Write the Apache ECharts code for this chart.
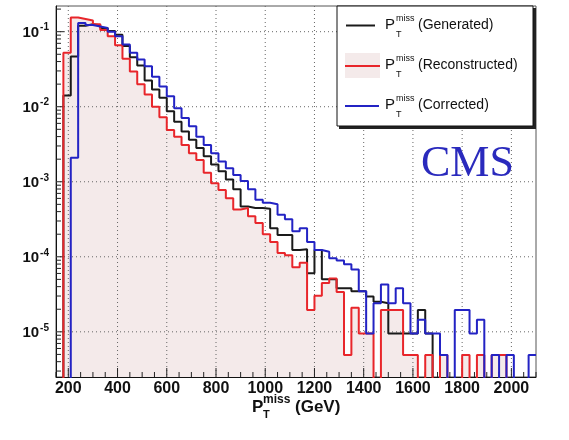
<!DOCTYPE html>
<html><head><meta charset="utf-8">
<script src="https://cdn.jsdelivr.net/npm/echarts@6/dist/echarts.min.js"></script>
<style>html,body{margin:0;padding:0;background:#fff}#c{width:569px;height:440px}</style>
</head><body><div id="c"></div>
<script>
// Bin low edges (GeV), 30 GeV wide bins; last upper edge
const binLowEdges = [150,180,210,240,270,300,330,360,390,420,450,480,510,540,570,600,630,660,690,720,750,780,810,840,870,900,930,960,990,1020,1050,1080,1110,1140,1170,1200,1230,1260,1290,1320,1350,1380,1410,1440,1470,1500,1530,1560,1590,1620,1650,1680,1710,1740,1770,1800,1830,1860,1890,1920,1950,1980,2010,2040,2070];
const binUpEdge = 2100;

// P_T^miss (Generated)
const generated = [0,0.0141,0.0468,0.120,0.126,0.122,0.112,0.102,0.0912,0.0646,0.0457,0.0355,0.0224,0.0170,0.0132,0.00871,0.00631,0.00468,0.00363,0.00282,0.00219,0.00170,0.00138,0.00107,0.000794,0.000468,0.000447,0.000447,0.000437,0.000240,0.000195,0.000195,0.000123,0.000126,6.03e-5,0.000123,5.01e-5,5.01e-5,3.80e-5,3.80e-5,3.47e-5,3.47e-5,2.95e-5,2.51e-5,2.40e-5,9.5e-6,9.5e-6,9.5e-6,9.5e-6,1.95e-5,9.5e-6,0,0,0,0,0,0,0,0,0,0,0,0,0,0];
// P_T^miss (Reconstructed)
const reconstructed = [0,0.0525,0.155,0.148,0.141,0.126,0.105,0.0871,0.0661,0.0437,0.0295,0.0200,0.0145,0.0100,0.00724,0.00490,0.00398,0.00309,0.00240,0.00195,0.00132,0.000955,0.000776,0.000603,0.000427,0.000447,0.000347,0.000282,0.000200,0.000158,0.000112,0.000105,7.24e-5,8.32e-5,1.95e-5,3.02e-5,4.47e-5,5.13e-5,3.39e-5,4.9e-6,2.09e-5,9.5e-6,9.5e-6,0,1.95e-5,1.95e-5,1.95e-5,4.9e-6,4.9e-6,0,4.9e-6,0,4.9e-6,0,0,4.9e-6,0,4.9e-6,0,4.9e-6,4.9e-6,0,0,0,0];
// P_T^miss (Corrected)
const corrected = [0,0,0.00209,0.131,0.123,0.117,0.112,0.100,0.0871,0.0676,0.0525,0.0427,0.0347,0.0251,0.0186,0.0138,0.00955,0.00708,0.00550,0.00398,0.00309,0.00240,0.00186,0.00151,0.00123,0.00102,0.000794,0.000575,0.000525,0.000501,0.000363,0.000316,0.000219,0.000240,0.000158,0.000123,0.000117,9.55e-5,8.91e-5,7.94e-5,6.76e-5,3.47e-5,9.5e-6,2.40e-5,4.27e-5,2.40e-5,3.80e-5,2.40e-5,9.5e-6,1.45e-5,9.5e-6,9.5e-6,4.9e-6,0,1.95e-5,1.95e-5,9.5e-6,1.45e-5,0,4.9e-6,0,4.9e-6,0,0,4.9e-6];

const xTickLabels = [200,400,600,800,1000,1200,1400,1600,1800,2000];
const yDecades = [1e-5,1e-4,1e-3,1e-2,1e-1];

const X_MIN = 150, X_MAX = 2100, Y_MIN = 2.5e-6, Y_MAX = 0.22;
const FLOOR = 1e-9; // empty bins drawn below the frame (log axis)

function stepData(vals) {
  const pts = binLowEdges.map((e, i) => [e, vals[i] > 0 ? vals[i] : FLOOR]);
  const last = vals[vals.length - 1];
  pts.push([binUpEdge, last > 0 ? last : FLOOR]);
  return pts;
}

// tick positions
const xMinorTicks = [];
for (let v = X_MIN; v <= X_MAX; v += 50) xMinorTicks.push(v);
const yMinorTicks = [];
for (let d = -6; d <= -1; d++) for (let m = 1; m <= 9; m++) {
  const v = m * Math.pow(10, d);
  if (v >= Y_MIN && v <= Y_MAX) yMinorTicks.push({ v: v, major: m === 1 });
}

const FONT = '"Liberation Sans", Arial, Helvetica, sans-serif';
const BLACK = '#1a1a1a', RED = '#e8262b', BLUE = '#2323c4', FILL = '#f4eaea';

const chart = echarts.init(document.getElementById('c'), null, { renderer: 'canvas' });

function gridXRender(params, api) {
  const cs = params.coordSys;
  const x = api.coord([api.value(0), 1e-3])[0];
  return { type: 'line', shape: { x1: x, y1: cs.y, x2: x, y2: cs.y + cs.height },
    style: { stroke: '#666', lineWidth: 1, lineDash: [1, 3] } };
}
function gridYRender(params, api) {
  const cs = params.coordSys;
  const y = api.coord([1000, api.value(1)])[1];
  return { type: 'line', shape: { x1: cs.x, y1: y, x2: cs.x + cs.width, y2: y },
    style: { stroke: '#666', lineWidth: 1, lineDash: [1, 3] } };
}
function xTickRender(params, api) {
  const cs = params.coordSys;
  const v = api.value(0);
  const x = api.coord([v, 1e-3])[0];
  const len = (v % 200 === 0) ? 9 : 5;
  const yb = cs.y + cs.height;
  return { type: 'line', shape: { x1: x, y1: yb, x2: x, y2: yb - len },
    style: { stroke: '#222', lineWidth: 1 } };
}
function yTickRender(params, api) {
  const cs = params.coordSys;
  const y = api.coord([1000, api.value(1)])[1];
  const len = api.value(2) ? 8 : 5;
  return { type: 'line', shape: { x1: cs.x, y1: y, x2: cs.x + len, y2: y },
    style: { stroke: '#222', lineWidth: 1 } };
}

const option = {
  animation: false,
  backgroundColor: '#fff',
  grid: { left: 56, right: 33, top: 6, bottom: 63, show: true, borderColor: '#555', borderWidth: 1 },
  xAxis: {
    type: 'value', min: X_MIN, max: X_MAX, interval: 50,
    axisLine: { show: true, onZero: false, lineStyle: { color: '#111', width: 1 } },
    axisTick: { show: false }, splitLine: { show: false },
    axisLabel: {
      margin: 4, fontSize: 16, fontWeight: 'bold', color: '#111', fontFamily: FONT,
      formatter: function (v) { return xTickLabels.indexOf(v) >= 0 ? String(v) : ''; }
    }
  },
  yAxis: {
    type: 'log', logBase: 10, min: Y_MIN, max: Y_MAX,
    axisLine: { show: true, lineStyle: { color: '#111', width: 1 } },
    axisTick: { show: false }, splitLine: { show: false },
    axisLabel: {
      margin: 7, color: '#111', fontFamily: FONT,
      formatter: function (v) {
        const l = Math.log10(v);
        const r = Math.round(l);
        if (Math.abs(l - r) > 1e-6) return '';
        return '{b|10}{s|' + r + '}';
      },
      rich: {
        b: { fontSize: 15, fontWeight: 'bold', fontFamily: FONT, color: '#111', lineHeight: 18, verticalAlign: 'bottom' },
        s: { fontSize: 10, fontWeight: 'bold', fontFamily: FONT, color: '#111', lineHeight: 10, verticalAlign: 'top', padding: [0, 0, 0, 1] }
      }
    }
  },
  series: [
    { name: 'Reconstructed fill', type: 'line', step: 'end', data: stepData(reconstructed),
      showSymbol: false, silent: true, z: 1, clip: true,
      lineStyle: { width: 0, opacity: 0 }, areaStyle: { color: FILL, opacity: 1, origin: 'start' } },
    { name: 'gridX', type: 'custom', z: 2, silent: true, renderItem: gridXRender,
      data: xTickLabels.map(v => [v, 1e-3]), encode: { x: 0, y: 1 } },
    { name: 'gridY', type: 'custom', z: 2, silent: true, renderItem: gridYRender,
      data: yDecades.map(v => [1000, v]), encode: { x: 0, y: 1 } },
    { name: 'xTicks', type: 'custom', z: 2, silent: true, renderItem: xTickRender,
      data: xMinorTicks.map(v => [v, 1e-3]), encode: { x: 0, y: 1 } },
    { name: 'yTicks', type: 'custom', z: 2, silent: true, renderItem: yTickRender,
      data: yMinorTicks.map(t => [1000, t.v, t.major ? 1 : 0]), encode: { x: 0, y: 1 } },
    { name: 'Generated', type: 'line', step: 'end', data: stepData(generated), showSymbol: false,
      z: 3, clip: true, lineStyle: { color: BLACK, width: 2 } },
    { name: 'Reconstructed', type: 'line', step: 'end', data: stepData(reconstructed), showSymbol: false,
      z: 3, clip: true, lineStyle: { color: RED, width: 2 } },
    { name: 'Corrected', type: 'line', step: 'end', data: stepData(corrected), showSymbol: false,
      z: 4, clip: true, lineStyle: { color: BLUE, width: 2 } }
  ],
  graphic: [
    // legend box with shadow
    { type: 'rect', z: 100, shape: { x: 339, y: 8, width: 197, height: 121 }, style: { fill: '#222' } },
    { type: 'rect', z: 101, shape: { x: 337, y: 6, width: 196, height: 120 }, style: { fill: '#fff', stroke: '#111', lineWidth: 1 } },
    // row 1 generated
    { type: 'line', z: 102, shape: { x1: 346, y1: 25.5, x2: 375, y2: 25.5 }, style: { stroke: BLACK, lineWidth: 2 } },
    // row 2 reconstructed
    { type: 'rect', z: 102, shape: { x: 345, y: 53, width: 35, height: 25 }, style: { fill: FILL } },
    { type: 'line', z: 103, shape: { x1: 345, y1: 66, x2: 380, y2: 66 }, style: { stroke: RED, lineWidth: 2 } },
    // row 3 corrected
    { type: 'line', z: 102, shape: { x1: 345, y1: 106, x2: 379, y2: 106 }, style: { stroke: BLUE, lineWidth: 2 } }
  ].concat(
    [['(Generated)', 25], ['(Reconstructed)', 65], ['(Corrected)', 105]].flatMap(function (r) {
      const y = r[1];
      return [
        { type: 'text', z: 103, x: 385, y: y, style: { text: 'P', font: '15px ' + FONT, fill: '#111', verticalAlign: 'middle', textVerticalAlign: 'middle' } },
        { type: 'text', z: 103, x: 396, y: y - 2, style: { text: 'miss', font: '9px ' + FONT, fill: '#111', verticalAlign: 'bottom', textVerticalAlign: 'bottom' } },
        { type: 'text', z: 103, x: 396, y: y + 5, style: { text: 'T', font: '9px ' + FONT, fill: '#111', verticalAlign: 'top', textVerticalAlign: 'top' } },
        { type: 'text', z: 103, x: 418, y: y, style: { text: r[0], font: '14px ' + FONT, fill: '#111', verticalAlign: 'middle', textVerticalAlign: 'middle' } }
      ];
    }),
    [
      // CMS label
      { type: 'text', z: 103, x: 421, y: 164, style: { text: 'CMS', font: '44px "Liberation Serif", "Times New Roman", serif', fill: '#2a2abd', verticalAlign: 'middle', textVerticalAlign: 'middle' } },
      // x-axis title  P_T^miss (GeV)
      { type: 'text', z: 103, x: 252, y: 407, style: { text: 'P', font: 'bold 17px ' + FONT, fill: '#111', verticalAlign: 'middle', textVerticalAlign: 'middle' } },
      { type: 'text', z: 103, x: 263, y: 400, style: { text: 'miss', font: 'bold 12px ' + FONT, fill: '#111', verticalAlign: 'middle', textVerticalAlign: 'middle' } },
      { type: 'text', z: 103, x: 263, y: 415, style: { text: 'T', font: 'bold 11px ' + FONT, fill: '#111', verticalAlign: 'middle', textVerticalAlign: 'middle' } },
      { type: 'text', z: 103, x: 295, y: 407, style: { text: '(GeV)', font: 'bold 17px ' + FONT, fill: '#111', verticalAlign: 'middle', textVerticalAlign: 'middle' } }
    ]
  )
};
chart.setOption(option);
</script></body></html>
